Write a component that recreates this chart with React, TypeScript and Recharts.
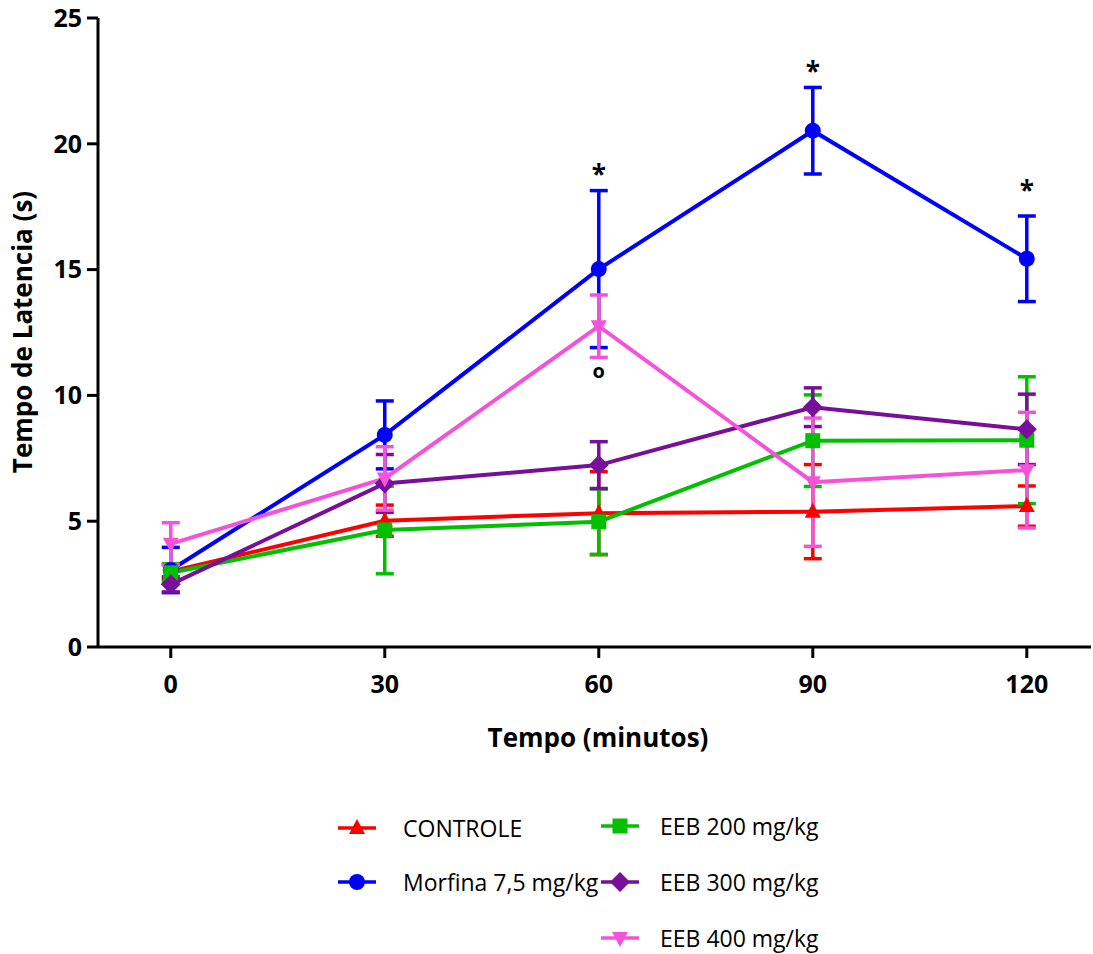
import React from 'react';
import { LineChart, Line, XAxis, YAxis, ErrorBar, ReferenceDot } from 'recharts';

// time points (minutes)
const tempos = [0, 30, 60, 90, 120];

// mean latency (s) and error per group
const controle = [3.0, 5.02, 5.32, 5.38, 5.6];
const controleErr = [0.3, 0.62, 1.65, 1.87, 0.8];
const morfina = [3.06, 8.43, 15.02, 20.52, 15.43];
const morfinaErr = [0.9, 1.35, 3.12, 1.72, 1.7];
const eeb200 = [2.95, 4.65, 4.98, 8.2, 8.22];
const eeb200Err = [0.35, 1.74, 1.3, 1.82, 2.52];
const eeb300 = [2.49, 6.5, 7.23, 9.53, 8.65];
const eeb300Err = [0.3, 1.15, 0.93, 0.77, 1.4];
const eeb400 = [4.1, 6.7, 12.75, 6.55, 7.03];
const eeb400Err = [0.84, 1.26, 1.24, 2.55, 2.3];

const yTicks = [0, 5, 10, 15, 20, 25];

// significance marks (value = text baseline)
const marks = [
  { x: 60, y: 18.4, text: '*' },
  { x: 90, y: 22.48, text: '*' },
  { x: 120, y: 17.77, text: '*' },
  { x: 60, y: 10.69, text: 'o' },
];

const FONT = '"Open Sans", "Noto Sans", sans-serif';

const data = tempos.map((t, i) => ({
  t,
  controle: controle[i], controleErr: controleErr[i],
  morfina: morfina[i], morfinaErr: morfinaErr[i],
  eeb200: eeb200[i], eeb200Err: eeb200Err[i],
  eeb300: eeb300[i], eeb300Err: eeb300Err[i],
  eeb400: eeb400[i], eeb400Err: eeb400Err[i],
}));

type Shape = 'up' | 'circle' | 'square' | 'diamond' | 'down';

const SERIES: { key: string; label: string; color: string; shape: Shape }[] = [
  { key: 'controle', label: 'CONTROLE', color: '#FF0000', shape: 'up' },
  { key: 'morfina', label: 'Morfina 7,5 mg/kg', color: '#0000FF', shape: 'circle' },
  { key: 'eeb200', label: 'EEB 200 mg/kg', color: '#00C000', shape: 'square' },
  { key: 'eeb300', label: 'EEB 300 mg/kg', color: '#770F9A', shape: 'diamond' },
  { key: 'eeb400', label: 'EEB 400 mg/kg', color: '#F552DA', shape: 'down' },
];

function Marker({ cx, cy, shape, color }: { cx: number; cy: number; shape: Shape; color: string }) {
  if (cx == null || cy == null) return null;
  switch (shape) {
    case 'up':
      return <polygon points={`${cx},${cy - 9} ${cx - 8},${cy + 6} ${cx + 8},${cy + 6}`} fill={color} />;
    case 'down':
      return <polygon points={`${cx},${cy + 9} ${cx - 8},${cy - 6} ${cx + 8},${cy - 6}`} fill={color} />;
    case 'square':
      return <rect x={cx - 7.5} y={cy - 7.5} width={15} height={15} fill={color} />;
    case 'diamond':
      return <polygon points={`${cx},${cy - 10} ${cx + 10},${cy} ${cx},${cy + 10} ${cx - 10},${cy}`} fill={color} />;
    default:
      return <circle cx={cx} cy={cy} r={8} fill={color} />;
  }
}

function LegendIcon({ shape, color }: { shape: Shape; color: string }) {
  return (
    <svg width={38} height={20} style={{ display: 'block' }}>
      <line x1={0} y1={10} x2={38} y2={10} stroke={color} strokeWidth={3.5} />
      <Marker cx={19} cy={10} shape={shape} color={color} />
    </svg>
  );
}

const legendPos: Record<string, { left: number; top: number; text: number }> = {
  controle: { left: 338, top: 828, text: 403 },
  morfina: { left: 338, top: 882, text: 403 },
  eeb200: { left: 601, top: 826, text: 660 },
  eeb300: { left: 601, top: 882, text: 660 },
  eeb400: { left: 601, top: 938, text: 660 },
};

export default function App() {
  return (
    <div style={{ position: 'absolute', left: 0, top: 0, width: 1093, height: 954, background: '#fff', fontFamily: FONT }}>
      <LineChart width={1093} height={700} data={data} margin={{ top: 18, right: 2, bottom: 0, left: 0 }}>
        <XAxis
          dataKey="t"
          type="number"
          domain={[-10.2, 129]}
          ticks={tempos}
          allowDataOverflow
          tickSize={11}
          tickMargin={17}
          height={53}
          axisLine={{ stroke: '#000', strokeWidth: 3 }}
          tickLine={{ stroke: '#000', strokeWidth: 3 }}
          tick={{ fontSize: 25, fontWeight: 700, fill: '#000', fontFamily: FONT }}
        />
        <YAxis
          type="number"
          domain={[0, 25]}
          ticks={yTicks}
          width={98}
          tickSize={11}
          tickMargin={5}
          axisLine={{ stroke: '#000', strokeWidth: 3 }}
          tickLine={{ stroke: '#000', strokeWidth: 3 }}
          tick={{ fontSize: 25, fontWeight: 700, fill: '#000', fontFamily: FONT }}
        />
        {SERIES.map((s) => (
          <Line
            key={s.key}
            dataKey={s.key}
            stroke={s.color}
            strokeWidth={4}
            isAnimationActive={false}
            dot={(p: any) => <Marker key={`${s.key}-${p.index}`} cx={p.cx} cy={p.cy} shape={s.shape} color={s.color} />}
            activeDot={false}
          >
            <ErrorBar dataKey={`${s.key}Err`} direction="y" width={9} stroke={s.color} strokeWidth={3.5} />
          </Line>
        ))}
        {marks.map((m, i) => (
          <ReferenceDot
            key={i}
            x={m.x}
            y={m.y}
            r={0}
            shape={(p: any) => (
              <text
                x={p.cx}
                y={p.cy}
                textAnchor="middle"
                fontSize={m.text === '*' ? 26 : 20}
                fontWeight={700}
                fontFamily={FONT}
                fill="#000"
              >
                {m.text}
              </text>
            )}
          />
        ))}
      </LineChart>

      {/* axis titles */}
      <div
        style={{
          position: 'absolute', left: 22, top: 332, fontSize: 26, fontWeight: 700, whiteSpace: 'nowrap',
          transform: 'translate(-50%, -50%) rotate(-90deg)',
        }}
      >
        Tempo de Latencia (s)
      </div>
      <div
        style={{
          position: 'absolute', left: 598, top: 737, fontSize: 26, fontWeight: 700, whiteSpace: 'nowrap',
          transform: 'translate(-50%, -50%)',
        }}
      >
        Tempo (minutos)
      </div>

      {/* legend */}
      {SERIES.map((s) => {
        const pos = legendPos[s.key];
        return (
          <React.Fragment key={s.key}>
            <div style={{ position: 'absolute', left: pos.left, top: pos.top - 10 }}>
              <LegendIcon shape={s.shape} color={s.color} />
            </div>
            <div
              style={{
                position: 'absolute', left: pos.text, top: pos.top, fontSize: 23, whiteSpace: 'nowrap',
                transform: 'translateY(-50%)', color: '#000',
              }}
            >
              {s.label}
            </div>
          </React.Fragment>
        );
      })}
    </div>
  );
}
